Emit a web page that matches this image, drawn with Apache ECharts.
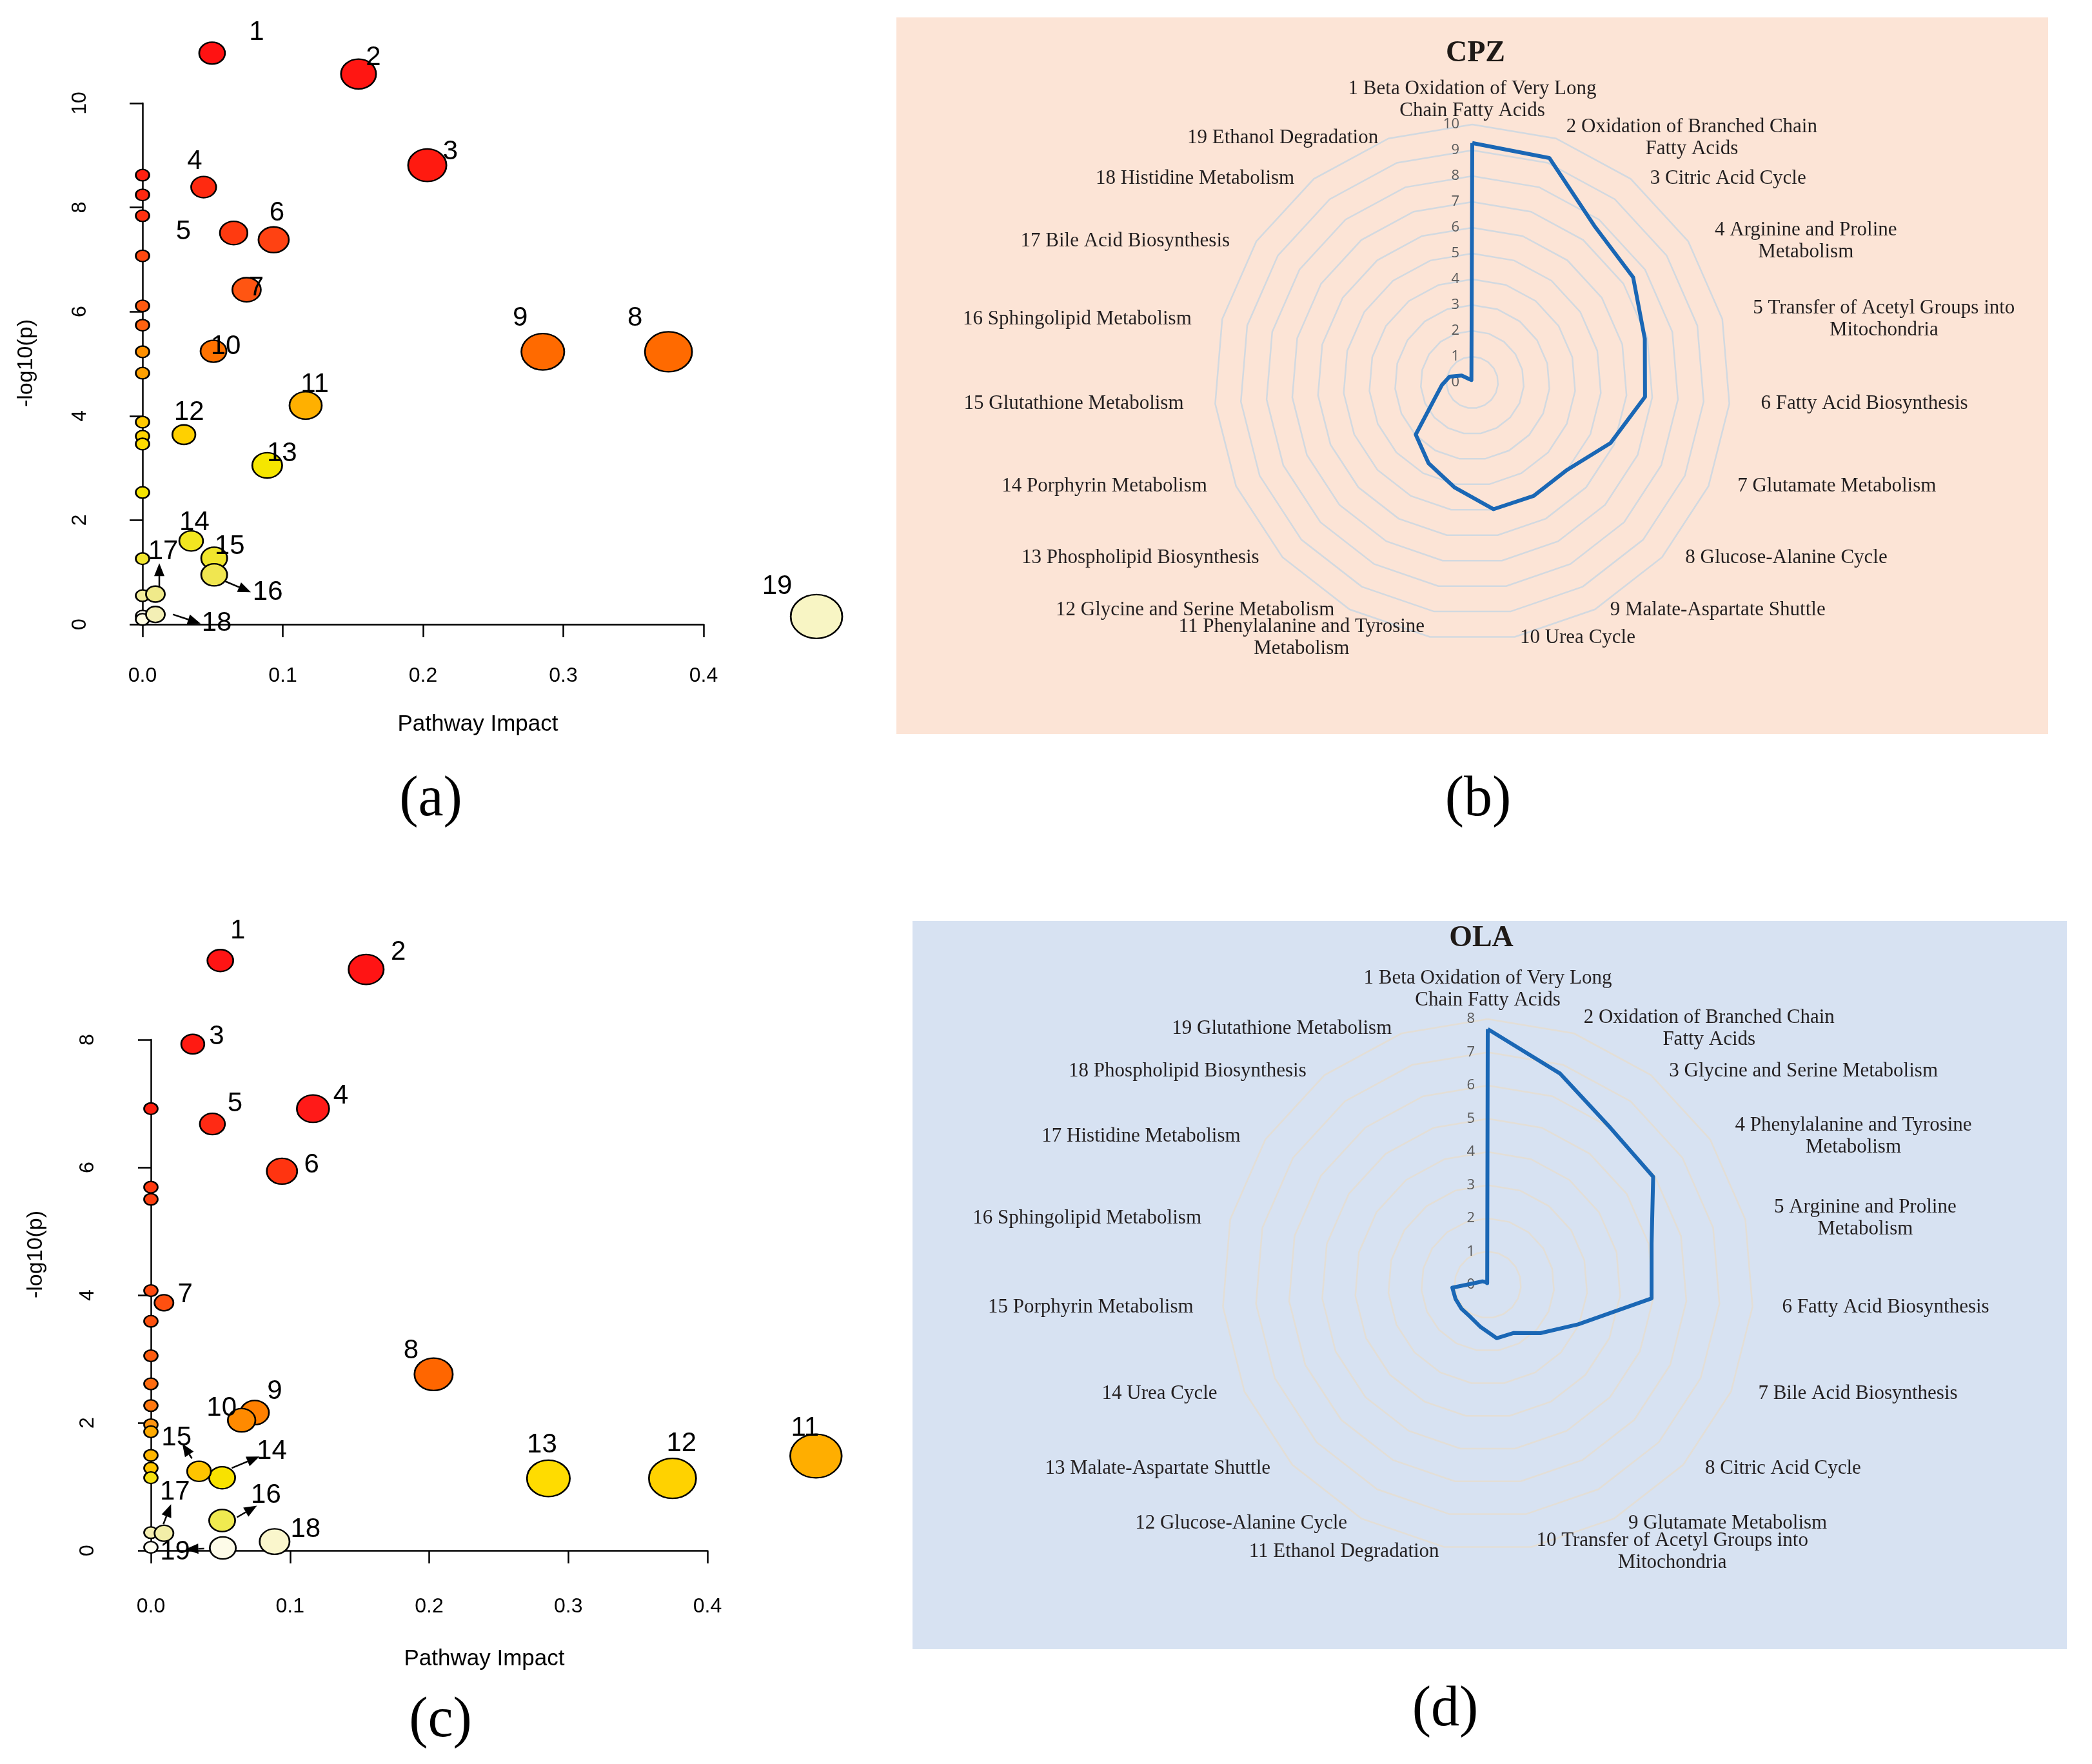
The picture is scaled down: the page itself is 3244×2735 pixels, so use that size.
<!DOCTYPE html>
<html>
<head>
<meta charset="utf-8">
<script src="https://cdn.jsdelivr.net/npm/echarts@6/dist/echarts.min.js"></script>
<style>
html,body{margin:0;padding:0;background:#ffffff;}
#main{width:3244px;height:2735px;}
</style>
</head>
<body>
<div id="main"></div>
<script>
// ---------------- DATA ----------------
// (a) CPZ pathway analysis: labelled pathways
const cpzPointLabels = ['1','2','3','4','5','6','7','8','9','10','11','12','13','14','15','16','17','18','19'];
const cpzImpact = [0.0496, 0.154, 0.203, 0.0436, 0.065, 0.0935, 0.0742, 0.375, 0.2854, 0.0506, 0.1163, 0.0295, 0.0889, 0.0347, 0.0511, 0.0511, 0.0092, 0.0092, 0.4805];
const cpzLogP = [10.96, 10.56, 8.81, 8.39, 7.51, 7.38, 6.42, 5.23, 5.23, 5.24, 4.20, 3.64, 3.05, 1.60, 1.27, 0.95, 0.58, 0.19, 0.15];
// (a) unlabelled pathways with zero impact
const cpzOtherLogP = [8.62, 8.24, 7.84, 7.07, 6.11, 5.74, 5.23, 4.82, 3.88, 3.61, 3.46, 2.53, 1.26, 0.55, 0.157, 0.095];

// (c) OLA pathway analysis: labelled pathways
const olaPointLabels = ['1','2','3','4','5','6','7','8','9','10','11','12','13','14','15','16','17','18','19'];
const olaImpact = [0.0499, 0.1547, 0.0301, 0.1165, 0.0442, 0.0942, 0.0094, 0.2032, 0.0746, 0.0652, 0.478, 0.3749, 0.2857, 0.0512, 0.0346, 0.0512, 0.0094, 0.0889, 0.0517];
const olaLogP = [9.24, 9.10, 7.93, 6.92, 6.68, 5.94, 3.88, 2.76, 2.16, 2.04, 1.48, 1.13, 1.13, 1.14, 1.24, 0.47, 0.27, 0.14, 0.04];
const olaOtherLogP = [6.92, 5.69, 5.50, 4.07, 3.59, 3.05, 2.61, 2.27, 1.97, 1.86, 1.49, 1.29, 1.14, 0.28, 0.05];

// axis ticks
const xTicksImpact = [0.0, 0.1, 0.2, 0.3, 0.4];
const yTicksA = [0, 2, 4, 6, 8, 10];
const yTicksC = [0, 2, 4, 6, 8];

// (b) CPZ radar
const cpzPathways = [
  '1 Beta Oxidation of Very Long\nChain Fatty Acids',
  '2 Oxidation of Branched Chain\nFatty Acids',
  '3 Citric Acid Cycle',
  '4 Arginine and Proline\nMetabolism',
  '5 Transfer of Acetyl Groups into\nMitochondria',
  '6 Fatty Acid Biosynthesis',
  '7 Glutamate Metabolism',
  '8 Glucose-Alanine Cycle',
  '9 Malate-Aspartate Shuttle',
  '10 Urea Cycle',
  '11 Phenylalanine and Tyrosine\nMetabolism',
  '12 Glycine and Serine Metabolism',
  '13 Phospholipid Biosynthesis',
  '14 Porphyrin Metabolism',
  '15 Glutathione Metabolism',
  '16 Sphingolipid Metabolism',
  '17 Bile Acid Biosynthesis',
  '18 Histidine Metabolism',
  '19 Ethanol Degradation'
];
const cpzRadarValues = [9.28, 9.2, 7.7, 7.45, 6.9, 6.72, 5.85, 5.0, 5.0, 4.98, 4.13, 3.56, 2.98, 1.6, 1.18, 0.91, 0.49, 0.15, 0.1];
const cpzRadarMax = 10;

// (d) OLA radar
const olaPathways = [
  '1 Beta Oxidation of Very Long\nChain Fatty Acids',
  '2 Oxidation of Branched Chain\nFatty Acids',
  '3 Glycine and Serine Metabolism',
  '4 Phenylalanine and Tyrosine\nMetabolism',
  '5 Arginine and Proline\nMetabolism',
  '6 Fatty Acid Biosynthesis',
  '7 Bile Acid Biosynthesis',
  '8 Citric Acid Cycle',
  '9 Glutamate Metabolism',
  '10 Transfer of Acetyl Groups into\nMitochondria',
  '11 Ethanol Degradation',
  '12 Glucose-Alanine Cycle',
  '13 Malate-Aspartate Shuttle',
  '14 Urea Cycle',
  '15 Porphyrin Metabolism',
  '16 Sphingolipid Metabolism',
  '17 Histidine Metabolism',
  '18 Phospholipid Biosynthesis',
  '19 Glutathione Metabolism'
];
const olaRadarValues = [7.7, 6.72, 6.0, 5.95, 5.09, 4.95, 2.97, 2.15, 1.65, 1.63, 1.29, 1.1, 1.07, 1.06, 1.07, 0.3, 0.19, 0.1, 0.05];
const olaRadarMax = 8;

// ---------------- STYLES ----------------
const cpzColors = ['#FF1212','#FF1612','#FF1A10','#FF2A10','#FF3A10','#FF4212','#FF5512','#FF6A00','#FF6A00','#FF7200','#FFB000','#FFD000','#F5E600','#F2E620','#F0E62C','#F0E650','#F0EA8A','#F3EFB5','#F8F5C4'];
const cpzOtherColors = ['#FF2010','#FF2810','#FF3010','#FF4810','#FF5A10','#FF6210','#FF9000','#FFA000','#FFC800','#FFD400','#FFDC00','#F5E400','#F2E630','#F2EC9A','#FFFEF0','#FFFDE2'];
const olaColors = ['#FF1414','#FF1414','#FF1A12','#FF1A18','#FF2A14','#FF3410','#FF5010','#FF6600','#FF8000','#FF8A00','#FFAE00','#FFD200','#FFDC00','#F8E200','#FFC400','#F0EA50','#F2EEA8','#FAF6CC','#FDFBE8'];
const olaOtherColors = ['#FF2010','#FF3A10','#FF4010','#FF4A10','#FF5210','#FF5C10','#FF6C10','#FF7810','#FF9410','#FFAA00','#FFB600','#FFC600','#F5E010','#F4EEB0','#FFFEF2'];

// label offsets (px) of the number tags relative to their bubble centre
const cpzLabelOffsets = [[69,-32],[23,-25],[36,-21],[-14,-40],[-78,-2],[5,-41],[15,-3],[-52,-52],[-35,-52],[19,-7],[14,-32],[8,-34],[23,-18],[5,-28],[24,-18],[83,27],[12,-66],[95,14],[-61,-46]];
const olaLabelOffsets = [[27,-46],[50,-27],[37,-12],[43,-19],[35,-31],[46,-10],[33,-12],[-35,-36],[31,-33],[-31,-19],[-17,-43],[14,-54],[-10,-52],[77,-41],[-35,-52],[68,-39],[17,-64],[48,-19],[-74,6]];
// leader arrows: [pointIndex, fromDx, fromDy, toDx, toDy] in px
const cpzArrows = [[15,17,10,57,27],[16,6,-10,6,-48],[17,27,0,70,14]];
const olaArrows = [[14,-11,-20,-26,-43],[13,15,-15,58,-33],[16,-1,-14,11,-45],[15,23,-5,54,-23],[18,-29,1,-58,2]];

const ELLIPSE = 'path://M0,50A50,50,0,1,1,100,50A50,50,0,1,1,0,50Z';
function bubbleSize(val){ const w = 21 + 85*Math.sqrt(Math.max(0,val[0])); return [w, w*0.85]; }

function mainSeries(gi, xs, ys, labels, colors, offsets){
  return {
    type:'scatter', xAxisIndex:gi, yAxisIndex:gi, clip:false, z:4,
    symbol: ELLIPSE, symbolSize: bubbleSize,
    itemStyle:{borderColor:'#000', borderWidth:2.5, opacity:1},
    label:{show:true, position:'inside', formatter:'{b}', color:'#000', fontFamily:'Liberation Sans', fontSize:42},
    labelLayout: function(p){ const o = offsets[p.dataIndex]; return {dx:o[0], dy:o[1], hideOverlap:false}; },
    emphasis:{disabled:true},
    data: xs.map((x,i)=>({name:labels[i], value:[x, ys[i]], itemStyle:{color:colors[i]}}))
  };
}
function otherSeries(gi, ys, colors){
  return {
    type:'scatter', xAxisIndex:gi, yAxisIndex:gi, clip:false, z:3,
    symbol: ELLIPSE, symbolSize: bubbleSize,
    itemStyle:{borderColor:'#000', borderWidth:2.5, opacity:1},
    emphasis:{disabled:true},
    data: ys.map((y,i)=>({value:[0, y], itemStyle:{color:colors[i]}}))
  };
}
function xAx(gi, offset){
  return {gridIndex:gi, type:'value', min:xTicksImpact[0], max:xTicksImpact[xTicksImpact.length-1], interval:0.1, offset:offset,
    axisLine:{show:true, lineStyle:{color:'#000', width:2.5}},
    axisTick:{show:true, length:20, lineStyle:{color:'#000', width:2.5}},
    axisLabel:{color:'#000', fontFamily:'Liberation Sans', fontSize:32, margin:40, formatter:v=>v.toFixed(1)},
    splitLine:{show:false}};
}
function yAx(gi, ticks, offset){
  return {gridIndex:gi, type:'value', min:ticks[0], max:ticks[ticks.length-1], interval:2, offset:offset,
    axisLine:{show:true, lineStyle:{color:'#000', width:2.5}},
    axisTick:{show:true, length:20, lineStyle:{color:'#000', width:2.5}},
    axisLabel:{color:'#000', fontFamily:'Liberation Sans', fontSize:32, margin:40, rotate:90},
    splitLine:{show:false}};
}
// radar order: ECharts places indicators counter-clockwise, reference is clockwise
function cwOrder(arr){ return [arr[0]].concat(arr.slice(1).reverse()); }
function radarCfg(center, radius, names, max, splitColor){
  const ordered = cwOrder(names);
  return {
    center:center, radius:radius, startAngle:90, shape:'polygon', splitNumber:max,
    indicator: ordered.map((nm,i)=> i===0 ? {name:nm, min:0, max:max, axisLabel:{show:true}} : {name:nm, min:0, max:max}),
    axisName:{show:false},
    axisLine:{show:false}, axisTick:{show:false},
    axisLabel:{show:false, color:'#595959', fontFamily:'Open Sans', fontSize:22, margin:20},
    splitLine:{lineStyle:{color:splitColor, width:2.5}},
    splitArea:{show:false}
  };
}

const RADAR_B = {center:[2283,593], radius:400, ax:449, ay:401, topDist:438};
const RADAR_D = {center:[2307,1992], radius:412, ax:458, ay:420, topDist:458};

const option = {
  backgroundColor:'#ffffff',
  animation:false,
  grid:[
    {left:221, top:160, width:870, height:808},
    {left:234, top:1612, width:863, height:792}
  ],
  xAxis:[xAx(0,24), xAx(1,31)],
  yAxis:[yAx(0,yTicksA,41), yAx(1,yTicksC,42)],
  radar:[
    radarCfg(RADAR_B.center, RADAR_B.radius, cpzPathways, cpzRadarMax, '#D2D9E0'),
    radarCfg(RADAR_D.center, RADAR_D.radius, olaPathways, olaRadarMax, '#E3DED6')
  ],
  series:[
    otherSeries(0, cpzOtherLogP, cpzOtherColors),
    mainSeries(0, cpzImpact, cpzLogP, cpzPointLabels, cpzColors, cpzLabelOffsets),
    otherSeries(1, olaOtherLogP, olaOtherColors),
    mainSeries(1, olaImpact, olaLogP, olaPointLabels, olaColors, olaLabelOffsets),
    {type:'radar', radarIndex:0, symbol:'none', z:5,
     lineStyle:{color:'#1A67B5', width:6}, emphasis:{disabled:true},
     data:[{name:'CPZ', value:cwOrder(cpzRadarValues)}]},
    {type:'radar', radarIndex:1, symbol:'none', z:5,
     lineStyle:{color:'#1A67B5', width:6}, emphasis:{disabled:true},
     data:[{name:'OLA', value:cwOrder(olaRadarValues)}]}
  ]
};

const chart = echarts.init(document.getElementById('main'), null, {renderer:'canvas'});
chart.setOption(option);

function arrowElements(gi, xs, ys, arrows, prefix){
  const els = [];
  arrows.forEach((a, k)=>{
    const p = chart.convertToPixel({gridIndex:gi}, [xs[a[0]], ys[a[0]]]);
    const x1 = p[0]+a[1], y1 = p[1]+a[2], x2 = p[0]+a[3], y2 = p[1]+a[4];
    const ang = Math.atan2(y2-y1, x2-x1), L = 20, W = 8;
    const bx = x2 - L*Math.cos(ang), by = y2 - L*Math.sin(ang);
    els.push({type:'line', id:prefix+'l'+k, z:6, shape:{x1:x1, y1:y1, x2:bx, y2:by}, style:{stroke:'#000', lineWidth:2.5}});
    els.push({type:'polygon', id:prefix+'h'+k, z:6, shape:{points:[[x2,y2],[bx - W*Math.sin(ang), by + W*Math.cos(ang)],[bx + W*Math.sin(ang), by - W*Math.cos(ang)]]}, style:{fill:'#000'}});
  });
  return els;
}

// indicator names placed around a slightly wide ellipse, lines centred (as in the reference)
const NAME_FONT = 31, NAME_FAMILY = 'Liberation Serif';
const measureCtx = document.createElement('canvas').getContext('2d');
function radarNameElements(prefix, names, cfg){
  measureCtx.font = NAME_FONT + 'px "' + NAME_FAMILY + '"';
  const n = names.length, cx = cfg.center[0], cy = cfg.center[1];
  return names.map((nm, k)=>{
    const th = k*2*Math.PI/n, s = Math.sin(th), c = Math.cos(th);
    const w = Math.max.apply(null, nm.split('\n').map(l=>measureCtx.measureText(l).width));
    let x, y;
    if (k === 0) { x = cx; y = cy - cfg.topDist; }
    else {
      const edge = cx + cfg.ax*s;
      x = s > 0 ? edge + w/2 : edge - w/2;
      y = cy - cfg.ay*c;
    }
    return {type:'text', id:prefix+k, z:6, x:x, y:y,
      style:{text:nm, fontFamily:NAME_FAMILY, fontSize:NAME_FONT, lineHeight:34, fill:'#231f20', textAlign:'center', textVerticalAlign:'middle'}};
  });
}

const textFont = (size, family, weight) => ({fontSize:size, fontFamily:family, fontWeight:weight||'normal', fill:'#000'});
const graphics = [
  {type:'rect', id:'bgB', z:-10, shape:{x:1390, y:27, width:1786, height:1111}, style:{fill:'#FCE4D6'}},
  {type:'rect', id:'bgD', z:-10, shape:{x:1415, y:1428, width:1790, height:1129}, style:{fill:'#D7E2F2'}},
  {type:'text', id:'tB', z:6, x:2288, y:83, style:Object.assign(textFont(46,'Liberation Serif','bold'), {text:'CPZ', fill:'#1f1a17', textAlign:'center', textVerticalAlign:'middle'})},
  {type:'text', id:'tD', z:6, x:2297, y:1455, style:Object.assign(textFont(46,'Liberation Serif','bold'), {text:'OLA', fill:'#1f1a17', textAlign:'center', textVerticalAlign:'middle'})},
  {type:'text', id:'xa', z:6, x:741, y:1123, style:Object.assign(textFont(35,'Liberation Sans'), {text:'Pathway Impact', textAlign:'center', textVerticalAlign:'middle'})},
  {type:'text', id:'xc', z:6, x:751, y:2572, style:Object.assign(textFont(35,'Liberation Sans'), {text:'Pathway Impact', textAlign:'center', textVerticalAlign:'middle'})},
  {type:'text', id:'ya', z:6, x:41, y:563, rotation:Math.PI/2, style:Object.assign(textFont(34,'Liberation Sans'), {text:'-log10(p)', textAlign:'center', textVerticalAlign:'middle'})},
  {type:'text', id:'yc', z:6, x:56, y:1945, rotation:Math.PI/2, style:Object.assign(textFont(34,'Liberation Sans'), {text:'-log10(p)', textAlign:'center', textVerticalAlign:'middle'})},
  {type:'text', id:'pa', z:6, x:668, y:1241, style:Object.assign(textFont(88,'Liberation Serif'), {text:'(a)', textAlign:'center', textVerticalAlign:'middle'})},
  {type:'text', id:'pb', z:6, x:2292, y:1241, style:Object.assign(textFont(88,'Liberation Serif'), {text:'(b)', textAlign:'center', textVerticalAlign:'middle'})},
  {type:'text', id:'pc', z:6, x:683, y:2669, style:Object.assign(textFont(88,'Liberation Serif'), {text:'(c)', textAlign:'center', textVerticalAlign:'middle'})},
  {type:'text', id:'pd', z:6, x:2241, y:2652, style:Object.assign(textFont(88,'Liberation Serif'), {text:'(d)', textAlign:'center', textVerticalAlign:'middle'})}
].concat(radarNameElements('nb', cpzPathways, RADAR_B))
 .concat(radarNameElements('nd', olaPathways, RADAR_D))
 .concat(arrowElements(0, cpzImpact, cpzLogP, cpzArrows, 'aa'))
 .concat(arrowElements(1, olaImpact, olaLogP, olaArrows, 'ca'));

chart.setOption({graphic: graphics});
</script>
</body>
</html>
